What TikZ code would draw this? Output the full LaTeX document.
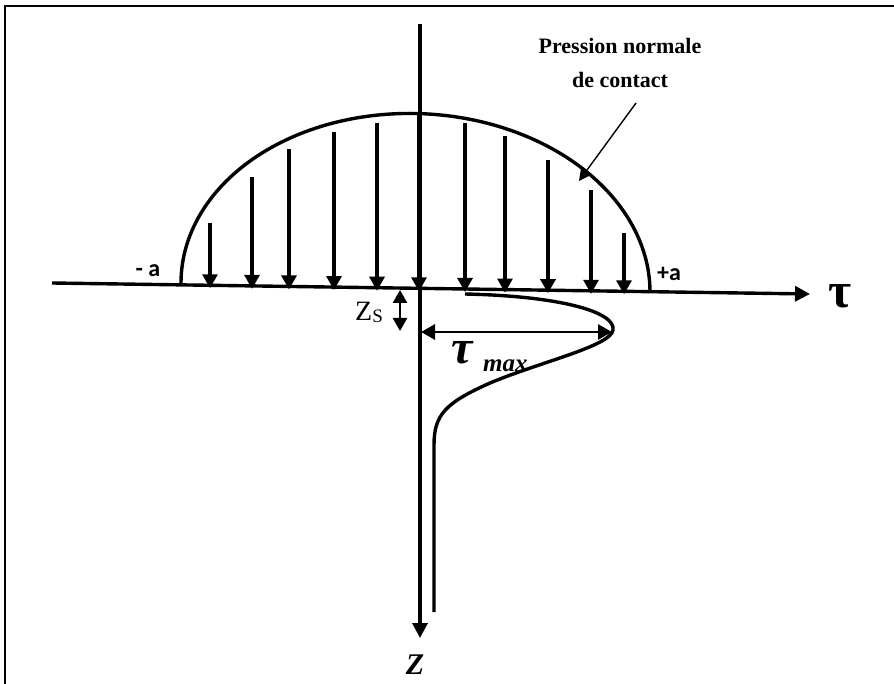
\documentclass[tikz,border=0pt]{standalone}
\usepackage{fontspec}
\setmainfont{Liberation Serif}
\newfontfamily\calib{Carlito}
\usetikzlibrary{arrows.meta}
\begin{document}
\begin{tikzpicture}[x=1pt,y=-1pt,
  frameline/.style={line width=2.2pt},
  axisline/.style={line width=3.4pt},
  curveline/.style={line width=3.4pt},
  tipA/.style={-{Triangle[length=15pt,width=15pt]}},
  load/.style={line width=3.1pt,-{Triangle[length=14pt,width=15pt]}},
  dimarrow/.style={line width=2.8pt,{Triangle[length=14pt,width=15pt]}-{Triangle[length=14pt,width=15pt]}},
  leader/.style={line width=1.4pt,-{Triangle[length=12pt,width=12pt]}},
  lab/.style={inner sep=0pt}]
\useasboundingbox (0,0) rectangle (894,684);
% frame (open at right and bottom)
\draw[frameline] (5,684) -- (5,6) -- (894,6);

% axes
\coordinate (hL) at (52,283);
\coordinate (hR) at (810,294);
\coordinate (vT) at (420,24);
\coordinate (vB) at (420,638);
\draw[axisline,tipA] (hL) -- (hR);
\draw[axisline,tipA] (vT) -- (vB);

% semi-ellipse of contact pressure
\draw[curveline] plot[domain=180:0,samples=120,smooth]
  ({415.5+234.5*cos(\x)},{287.5-174*sin(\x)+4.5*cos(\x)});

% load arrows (x, start y)
\foreach \px/\py in {210/223,252/177,289/149,334/132,377/123,419/114,465/123,505/136,548/160,591/190,624/233}{
  \coordinate (s\px) at (\px,\py);
  \coordinate (e\px) at (\px,{283+(\px-52)*11/758+3});
  \draw[load] (s\px) -- (e\px);
}

% shear stress profile
\coordinate (c0) at (465,294);
\coordinate (cpk) at (613,330);
\coordinate (cmid) at (490,383);
\coordinate (cv) at (434,445);
\coordinate (cend) at (434,612);
\draw[curveline] (c0) .. controls (560,296) and (616,312) .. (cpk)
  .. controls (611,346) and (540,362) .. (cmid)
  .. controls (445,403) and (434,415) .. (cv) -- (cend);

% tau max dimension
\coordinate (tA) at (421,332);
\coordinate (tB) at (612,332);
\draw[dimarrow] (tA) -- (tB);

% Zs dimension
\coordinate (zA) at (400,290);
\coordinate (zB) at (400,331);
\draw[line width=2.6pt,{Triangle[length=13pt,width=14pt]}-{Triangle[length=13pt,width=14pt]}] (zA) -- (zB);

% labels
\node[lab,align=center,font={\fontsize{22}{34}\selectfont\bfseries}] (pn) at (620,63) {Pression normale\\de contact};
\coordinate (lS) at (636,103);
\coordinate (lE) at (579,181);
\draw[leader] (lS) -- (lE);

\node[lab,font={\calib\bfseries\fontsize{24}{24}\selectfont}] (ma) at (148,271) {- a};
\node[lab,font={\calib\bfseries\fontsize{24}{24}\selectfont}] (pa) at (669,274) {+a};
\node[lab,font={\bfseries\fontsize{50}{50}\selectfont}] (tau) at (840,296) {τ};
\node[lab,font={\fontsize{28}{28}\selectfont},anchor=base] (zs) at (369,321) {Z\raisebox{-2pt}{\fontsize{19}{19}\selectfont S}};
\node[lab,anchor=base west,font={\bfseries\itshape\fontsize{48}{48}\selectfont}] (tmax) at (451,364) {τ};
\node[lab,anchor=base west,font={\bfseries\itshape\fontsize{25}{25}\selectfont}] (mx) at (483,371) {max};
\node[lab,anchor=base,font={\bfseries\itshape\fontsize{30}{30}\selectfont}] (zl) at (415,674) {Z};
\end{tikzpicture}
\end{document}
